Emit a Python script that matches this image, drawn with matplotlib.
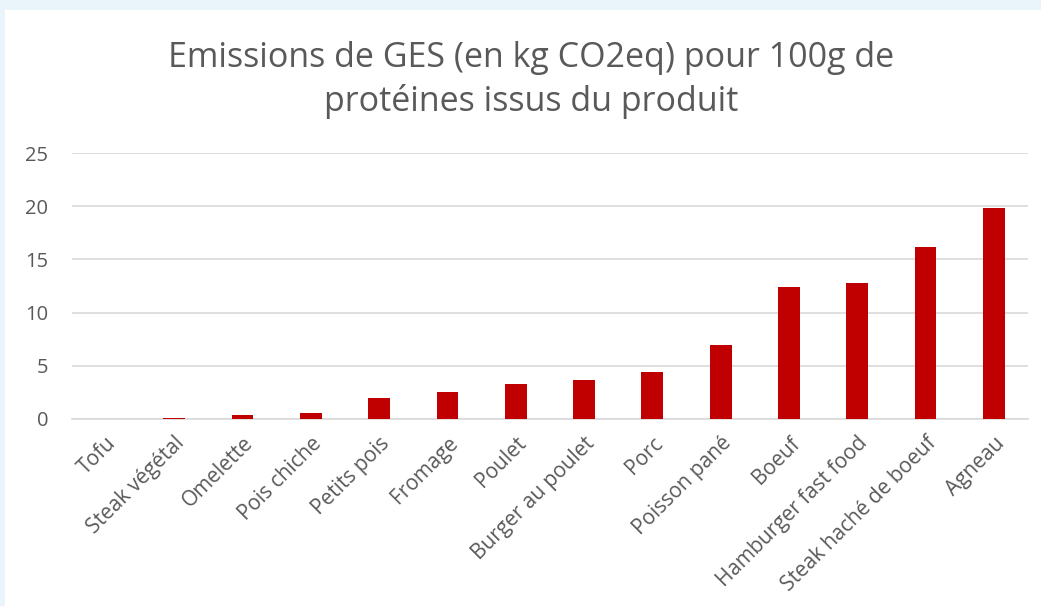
import matplotlib
matplotlib.use("Agg")
import matplotlib.pyplot as plt
from matplotlib.patches import Rectangle

# données
produits = ["Tofu", "Steak végétal", "Omelette", "Pois chiche", "Petits pois",
            "Fromage", "Poulet", "Burger au poulet", "Porc", "Poisson pané",
            "Boeuf", "Hamburger fast food", "Steak haché de boeuf", "Agneau"]
emissions = [0.0, 0.1, 0.35, 0.55, 1.95, 2.55, 3.3, 3.65, 4.4, 7.0,
             12.4, 12.75, 16.2, 19.8]
y_ticks = [0, 5, 10, 15, 20, 25]

GRIS = "#595959"
ROUGE = "#C00000"

plt.rcParams["font.family"] = ["Open Sans", "DejaVu Sans"]

fig = plt.figure(figsize=(10.41, 6.06), dpi=100)
fig.patch.set_facecolor("white")
# bord bleu clair de la capture
fig.patches.append(Rectangle((0, 0.983), 1, 0.017, transform=fig.transFigure,
                             facecolor="#EAF4FB", edgecolor="none", zorder=0))
fig.patches.append(Rectangle((0, 0), 0.005, 1, transform=fig.transFigure,
                             facecolor="#EAF4FB", edgecolor="none", zorder=0))

ax = fig.add_axes([0.069, 0.3086, 0.9185, 0.4389])
x = range(len(produits))
ax.bar(x, emissions, width=0.32, color=ROUGE, zorder=3)

ax.set_xlim(-0.5, len(produits) - 0.5)
ax.set_ylim(0, 25)
ax.set_yticks(y_ticks)
ax.set_yticklabels([str(v) for v in y_ticks], color=GRIS, fontsize=14.5)
ax.set_xticks(list(x))
ax.set_xticklabels(produits, rotation=45, ha="right", rotation_mode="anchor",
                   color=GRIS, fontsize=15)
ax.tick_params(axis="both", length=0)
ax.tick_params(axis="y", pad=17)
ax.tick_params(axis="x", pad=10)

ax.grid(axis="y", color="#D9D9D9", linewidth=1.2, zorder=0)
for s in ["top", "right", "left"]:
    ax.spines[s].set_visible(False)
ax.spines["bottom"].set_color("#D9D9D9")
ax.spines["bottom"].set_linewidth(1.2)

fig.text(0.51, 0.868, "Emissions de GES (en kg CO2eq) pour 100g de\nprotéines issus du produit",
         ha="center", va="center", fontsize=24.5, color=GRIS, linespacing=1.3)

fig.savefig("out.png", dpi=100)
